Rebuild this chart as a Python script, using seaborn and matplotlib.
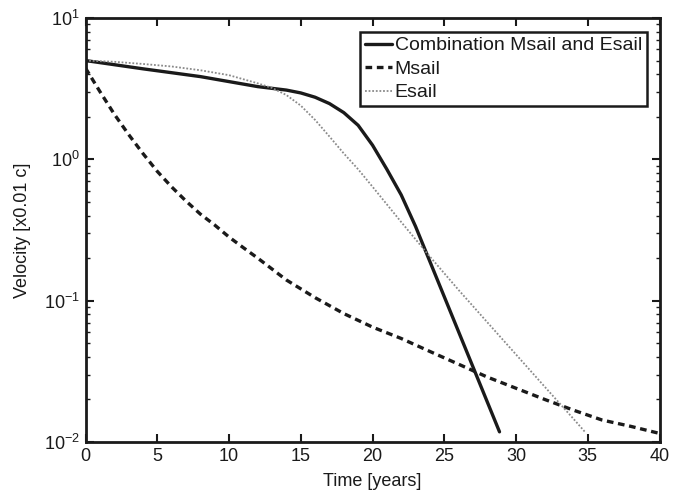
import matplotlib
matplotlib.use("Agg")
import matplotlib.pyplot as plt
import seaborn as sns
import pandas as pd
from matplotlib.ticker import LogLocator, FixedLocator, NullFormatter

# Data
t_comb = [0, 4, 8, 12, 14, 15, 16, 17, 18, 19, 20, 21, 22, 23, 28.85]
v_comb = [5.0, 4.37, 3.85, 3.27, 3.09, 2.95, 2.75, 2.48, 2.14, 1.74, 1.26, 0.85, 0.56, 0.335, 0.0118]

t_msail = [0, 1, 2, 3, 4, 5, 6, 7, 8, 9, 10, 11, 12, 14, 16, 18, 20, 22, 24, 26, 28, 30, 32, 34, 36, 38, 40]
v_msail = [4.42, 3.02, 2.09, 1.50, 1.10, 0.822, 0.638, 0.507, 0.41, 0.343, 0.282, 0.237, 0.20, 0.14,
           0.105, 0.081, 0.065, 0.054, 0.0437, 0.0355, 0.0288, 0.024, 0.020, 0.0168, 0.0143, 0.0129,
           0.0115]

t_esail = [0, 2, 4, 6, 8, 10, 12, 13, 14, 15, 16, 17, 18, 19, 20, 22, 24, 26, 28, 30, 32, 34, 34.8]
v_esail = [5.0, 4.9, 4.73, 4.54, 4.27, 3.94, 3.45, 3.2, 2.85, 2.4, 1.9, 1.45, 1.1, 0.85, 0.64, 0.36,
           0.205, 0.119, 0.0703, 0.0416, 0.0246, 0.0146, 0.0118]

labels = ["Combination Msail and Esail", "Msail", "Esail"]
x_ticks = [0, 5, 10, 15, 20, 25, 30, 35, 40]

sns.set_style("ticks")
plt.rcParams["font.family"] = ["Liberation Sans", "DejaVu Sans"]
plt.rcParams["mathtext.fontset"] = "custom"
plt.rcParams["mathtext.rm"] = "Liberation Sans"
plt.rcParams["mathtext.it"] = "Liberation Sans"

df = pd.concat([
    pd.DataFrame({"t": t_comb, "v": v_comb, "s": labels[0]}),
    pd.DataFrame({"t": t_msail, "v": v_msail, "s": labels[1]}),
    pd.DataFrame({"t": t_esail, "v": v_esail, "s": labels[2]}),
])

fig = plt.figure(figsize=(6.97, 4.96), dpi=100)
ax = fig.add_axes([0.1227, 0.1089, 0.8235, 0.8548])

styles = {
    labels[0]: dict(color="#1a1a1a", lw=2.4, ls="-"),
    labels[1]: dict(color="#1a1a1a", lw=2.4, ls=(0, (2.0, 1.4))),
    labels[2]: dict(color="#8a8a8a", lw=1.3, ls=(0, (1, 1))),
}
for lab in labels:
    sub = df[df["s"] == lab]
    sns.lineplot(data=sub, x="t", y="v", ax=ax, label=lab, sort=False,
                 estimator=None, **styles[lab])

ax.set_yscale("log")
ax.set_xlim(0, 40)
ax.set_ylim(1e-2, 1e1)
ax.xaxis.set_major_locator(FixedLocator(x_ticks))
ax.yaxis.set_major_locator(LogLocator(base=10, numticks=10))
ax.yaxis.set_minor_locator(LogLocator(base=10, subs=range(2, 10), numticks=20))
ax.yaxis.set_minor_formatter(NullFormatter())

for sp in ax.spines.values():
    sp.set_visible(True)
    sp.set_linewidth(2.0)
    sp.set_color("#1a1a1a")

ax.tick_params(which="major", direction="in", length=6, width=1.5, top=True, right=True,
               labelsize=13, colors="#1a1a1a", pad=4)
ax.tick_params(which="minor", direction="in", length=3, width=1.0, top=True, right=True,
               colors="#1a1a1a")
ax.tick_params(axis="x", which="minor", bottom=False, top=False)

ax.set_xlabel("Time [years]", fontsize=13, color="#1a1a1a", labelpad=6)
ax.set_ylabel("Velocity [x0.01 c]", fontsize=13, color="#1a1a1a", labelpad=9)

leg = ax.legend(loc="upper right", bbox_to_anchor=(0.978, 0.967), borderaxespad=0,
                fontsize=14, handlelength=1.4, handletextpad=0.15, labelspacing=0.3,
                borderpad=0.25, fancybox=False, framealpha=1, edgecolor="#1a1a1a")
leg.get_frame().set_linewidth(1.8)
for txt in leg.get_texts():
    txt.set_color("#1a1a1a")

fig.savefig("out.png", dpi=100)
